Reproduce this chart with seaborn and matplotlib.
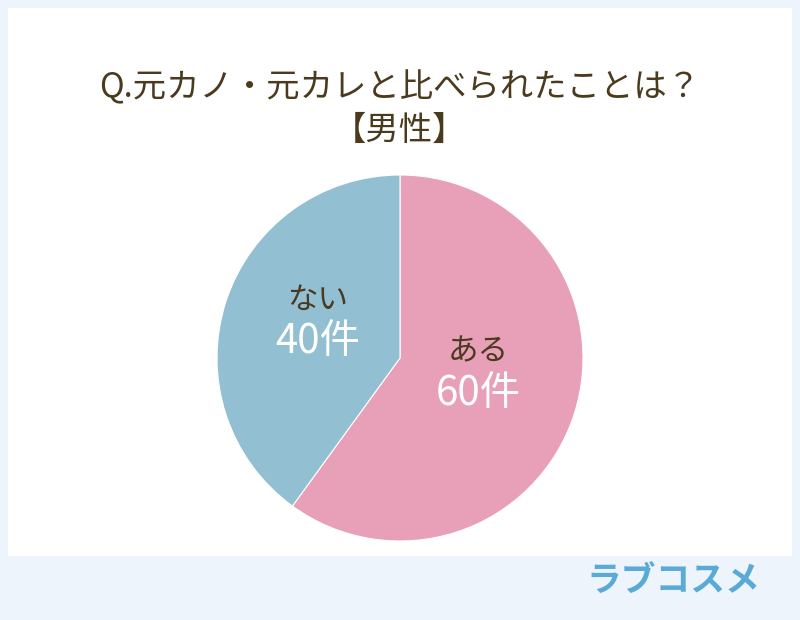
import matplotlib
matplotlib.use('Agg')
import matplotlib.pyplot as plt
from matplotlib.patches import Rectangle
import seaborn as sns

# data
labels = ['ある', 'ない']
counts = [60, 40]
count_labels = ['60件', '40件']
colors = ['#e89fb8', '#93bfd3']
title_lines = ['Q.元カノ・元カレと比べられたことは？', '【男性】']

sns.set_theme(style='white')
plt.rcParams['font.family'] = ['Noto Sans CJK JP', 'DejaVu Sans']

fig = plt.figure(figsize=(8, 6.2), dpi=100)
fig.patch.set_facecolor('#edf4fb')

# white panel
fig.patches.append(Rectangle((8 / 800, 1 - 556 / 620), 784 / 800, 548 / 620,
                             transform=fig.transFigure, facecolor='white',
                             edgecolor='none', zorder=-1))

fig.text(0.5, 1 - 88 / 620, title_lines[0], ha='center', va='center',
         fontsize=24, color='#4a3a1e')
fig.text(0.5, 1 - 130 / 620, title_lines[1], ha='center', va='center',
         fontsize=24, color='#4a3a1e')

ax = fig.add_axes([217 / 800, 1 - 541 / 620, 366 / 800, 366 / 620])
wedges, _ = ax.pie(counts, colors=colors, startangle=90, counterclock=False,
                   wedgeprops=dict(edgecolor='white', linewidth=0.8))
ax.set_xlim(-1, 1)
ax.set_ylim(-1, 1)
ax.set_aspect('equal')
ax.axis('off')

# label positions in data coords (centre of pie = 0,0)
pos = [((478 - 400) / 183, (358 - 352) / 183, (358 - 393) / 183),
       ((318 - 400) / 183, (358 - 300) / 183, (358 - 342) / 183)]
for lab, cl, (x, y1, y2) in zip(labels, count_labels, pos):
    ax.text(x, y1, lab, ha='center', va='center', fontsize=22, color='#4a3a1e')
    ax.text(x, y2, cl, ha='center', va='center', fontsize=29, color='white')

fig.text(673 / 800, 1 - 580 / 620, 'ラブコスメ', ha='center', va='center',
         fontsize=25, color='#5aaad8', fontweight='bold')

fig.savefig('out.png', dpi=100, facecolor=fig.get_facecolor())
